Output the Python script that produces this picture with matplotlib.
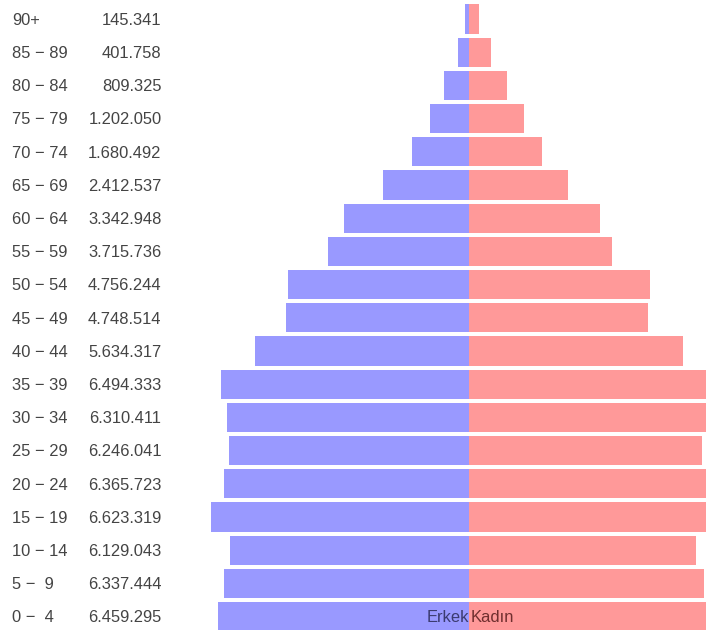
import matplotlib.pyplot as plt
from matplotlib.transforms import blended_transform_factory

# age groups, bottom (0-4) to top (90+)
age_groups = ["0 −  4", "5 −  9", "10 − 14", "15 − 19", "20 − 24", "25 − 29",
              "30 − 34", "35 − 39", "40 − 44", "45 − 49", "50 − 54", "55 − 59",
              "60 − 64", "65 − 69", "70 − 74", "75 − 79", "80 − 84", "85 − 89",
              "90+"]
totals = ["6.459.295", "6.337.444", "6.129.043", "6.623.319", "6.365.723",
          "6.246.041", "6.310.411", "6.494.333", "5.634.317", "4.748.514",
          "4.756.244", "3.715.736", "3.342.948", "2.412.537", "1.680.492",
          "1.202.050", "809.325", "401.758", "145.341"]

# millions
male = [3.297, 3.226, 3.143, 3.392, 3.226, 3.156, 3.186, 3.265, 2.819, 2.412,
        2.386, 1.853, 1.643, 1.139, 0.758, 0.522, 0.339, 0.155, 0.056]
female = [3.162, 3.081, 2.972, 3.231, 3.140, 3.055, 3.124, 3.229, 2.798, 2.343,
          2.373, 1.870, 1.713, 1.297, 0.948, 0.719, 0.492, 0.286, 0.131]

W, H = 706, 630
px_per_m = 76.2
center_px = 469.5
pitch = 33.2

fig = plt.figure(figsize=(W / 100, H / 100), dpi=100)
ax = fig.add_axes([0, 0, 1, 1])
ax.set_axis_off()

n = len(age_groups)
rows = list(range(n))
ax.barh(rows, [-m for m in male], height=0.875, color='#9999ff', linewidth=0)
ax.barh(rows, female, height=0.875, color='#ff9999', linewidth=0)

ax.set_xlim(-center_px / px_per_m, (W - center_px) / px_per_m)
top = (n - 1) + 19 / pitch
ax.set_ylim(top - H / pitch, top)

trans = blended_transform_factory(ax.transAxes, ax.transData)
fs = 11.9
base = 5.9 / pitch
for i in rows:
    ax.text(12.5 / W, i - base, age_groups[i], transform=trans, fontsize=fs,
            family='Liberation Sans', color='#444444', ha='left', va='baseline')
    ax.text(161.5 / W, i - base, totals[i], transform=trans, fontsize=fs,
            family='Liberation Sans', color='#444444', ha='right', va='baseline')

ax.text(-0.01, 0 - base, "Erkek", fontsize=fs, family='Liberation Sans',
        color='#3b3b70', ha='right', va='baseline')
ax.text(0.02, 0 - base, "Kadın", fontsize=fs, family='Liberation Sans',
        color='#702f2f', ha='left', va='baseline')

fig.savefig('out.png', dpi=100)
